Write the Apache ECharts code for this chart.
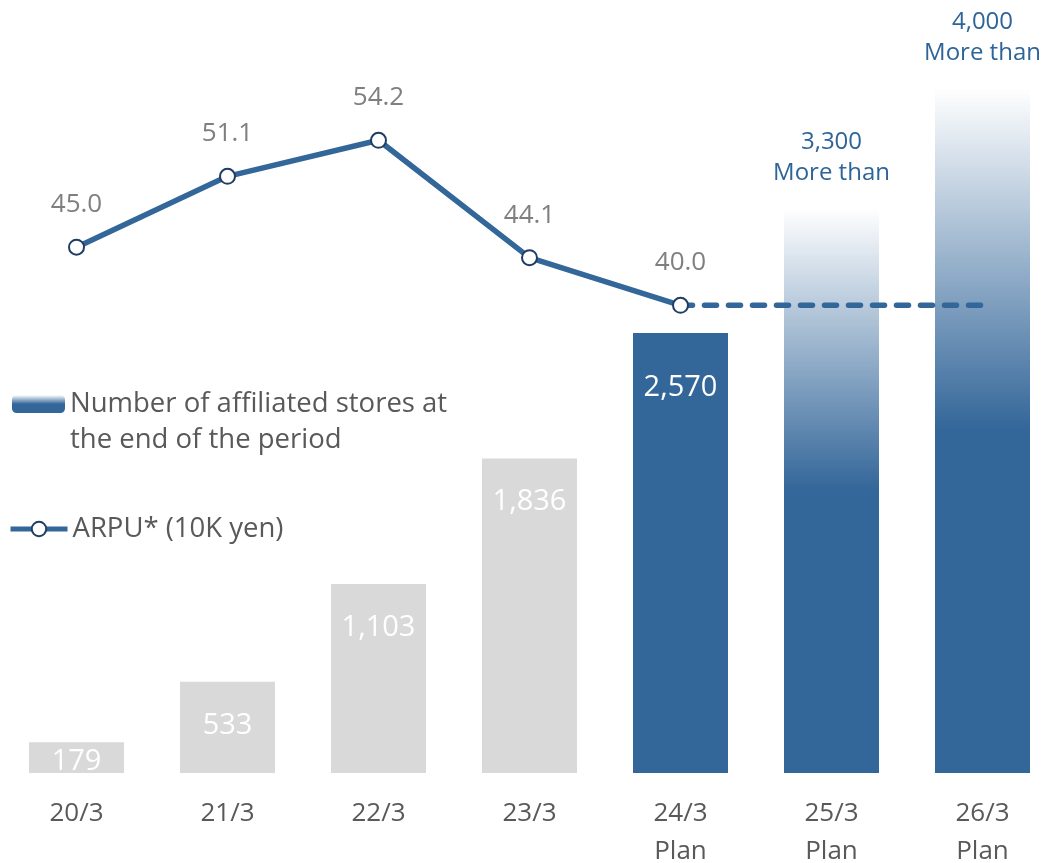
<!DOCTYPE html>
<html>
<head>
<meta charset="utf-8">
<title>Affiliated stores and ARPU</title>
<script src="https://cdn.jsdelivr.net/npm/echarts@6/dist/echarts.min.js"></script>
<style>
  html, body { margin: 0; padding: 0; background: #fff; }
  #chart { width: 1048px; height: 863px; }
</style>
</head>
<body>
<div id="chart"></div>
<script>
const categories = ['20/3', '21/3', '22/3', '23/3', '24/3\nPlan', '25/3\nPlan', '26/3\nPlan']
const storeCounts = [179, 533, 1103, 1836, 2570, 3300, 4000]
const arpuActual = [45.0, 51.1, 54.2, 44.1, 40.0, null, null]
const arpuPlan = [null, null, null, null, 40.0, 40.0, 40.0]

const barName = 'Number of affiliated stores at\nthe end of the period'
const lineName = 'ARPU* (10K yen)'

const BLUE = '#336699'
const GRAY = '#d9d9d9'
const FONT = '"Open Sans", "Noto Sans", sans-serif'

// white at the top, solid blue from the middle down
const fade = new echarts.graphic.LinearGradient(0, 0, 0, 1, [
  { offset: 0, color: 'rgba(51,102,153,0)' },
  { offset: 0.5, color: BLUE },
  { offset: 1, color: BLUE }
])

// label distance from bar top, per bar (inside labels)
const insideDist = [1, 26, 26, 25, 37]

const fmt = v => v.toLocaleString('en-US')

const barData = storeCounts.map((v, i) => {
  if (i < 5) {
    return {
      value: v,
      itemStyle: { color: i < 4 ? GRAY : BLUE },
      label: {
        show: true,
        position: 'insideTop',
        distance: insideDist[i],
        color: '#fff',
        fontSize: 29,
        lineHeight: 36,
        formatter: p => fmt(p.value)
      }
    }
  }
  return {
    value: v,
    itemStyle: { color: fade },
    label: {
      show: true,
      position: 'top',
      distance: 19,
      color: '#2e6599',
      fontSize: 24,
      lineHeight: 31,
      formatter: p => fmt(p.value) + '\nMore than'
    }
  }
})

const legendText = { fontFamily: FONT, fontSize: 27.5, color: '#595959', lineHeight: 36 }

const chart = echarts.init(document.getElementById('chart'))

chart.setOption({
  animation: false,
  textStyle: { fontFamily: FONT },
  grid: { left: 1, right: -10, top: 88, bottom: 90, containLabel: false, outerBoundsMode: 'none' },
  legend: [
    {
      orient: 'vertical',
      left: 7,
      top: 345,
      itemWidth: 53,
      itemHeight: 18,
      data: [barName],
      // blank first line keeps the icon level with the first text line
      formatter: name => '\n' + name,
      textStyle: legendText
    },
    {
      orient: 'vertical',
      left: 3,
      top: 506,
      itemWidth: 57,
      itemHeight: 18,
      data: [lineName],
      lineStyle: { width: 5, color: BLUE },
      itemStyle: { color: '#fff', borderColor: '#1f3d63', borderWidth: 2 },
      textStyle: legendText
    }
  ],
  xAxis: {
    type: 'category',
    data: categories,
    axisLine: { show: false },
    axisTick: { show: false },
    axisLabel: {
      margin: 22,
      fontSize: 26,
      lineHeight: 38,
      color: '#595959',
      interval: 0
    }
  },
  yAxis: [
    { type: 'value', min: 0, max: 4000, show: false, splitLine: { show: false } },
    { type: 'value', min: -0.25, max: 58.7, show: false, splitLine: { show: false } }
  ],
  series: [
    {
      name: barName,
      type: 'bar',
      barWidth: 95,
      itemStyle: { color: fade },
      data: barData,
      z: 1
    },
    {
      name: lineName,
      type: 'line',
      yAxisIndex: 1,
      data: arpuActual,
      symbol: 'circle',
      symbolSize: 15,
      lineStyle: { color: BLUE, width: 5.5 },
      itemStyle: { color: '#fff', borderColor: '#1f3d63', borderWidth: 2 },
      label: {
        show: true,
        position: 'top',
        distance: 21,
        color: '#7f7f7f',
        fontSize: 26,
        formatter: p => p.value.toFixed(1)
      },
      z: 4
    },
    {
      name: 'plan',
      type: 'line',
      yAxisIndex: 1,
      data: arpuPlan,
      symbol: 'none',
      lineStyle: { color: BLUE, width: 5.5, type: [12, 12], cap: 'round' },
      z: 3
    }
  ]
})
</script>
</body>
</html>
